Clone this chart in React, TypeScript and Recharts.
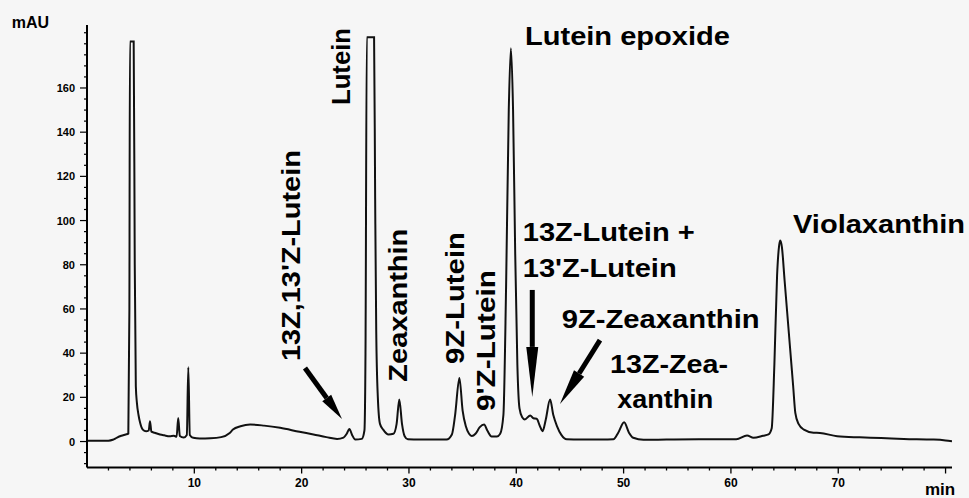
import React from "react";
import { LineChart, Line, XAxis, YAxis, ReferenceDot, ReferenceLine, Label } from "recharts";

// retention time (min) and absorbance (mAU)
const times = [
  0, 1, 2, 2.4, 2.8, 3.2, 3.6, 3.85, 3.95, 4.0, 4.35, 4.45, 4.55, 4.65, 4.8, 4.95, 5.2, 5.5, 5.75, 5.87,
  6.0, 6.3, 6.8, 7.2, 7.7, 8.1, 8.35, 8.5, 8.65, 9.0, 9.3, 9.44, 9.58, 9.9, 10.5, 11.5, 12.5, 13.3, 13.6, 14.3,
  15.2, 16.5, 18, 19.8, 21.1, 22.3, 23.3, 23.9, 24.2, 24.45, 24.7, 25.0, 25.6, 25.85, 25.95, 26.07, 26.75, 26.85, 26.95, 27.1,
  27.3, 27.6, 28.1, 28.55, 28.85, 29.1, 29.35, 29.6, 29.9, 31, 32.5, 33.5, 34.0, 34.3, 34.7, 35.0, 35.3, 35.6, 35.85, 36.2,
  36.6, 37.0, 37.3, 37.7, 38.2, 38.5, 38.8, 39.05, 39.3, 39.5, 39.7, 39.9, 40.1, 40.3, 40.55, 40.8, 41.3, 41.6, 41.9, 42.2,
  42.45, 42.75, 43.15, 43.45, 43.8, 44.2, 44.7, 46, 48, 49.05, 49.5, 50.05, 50.5, 50.9, 51.85, 54, 57, 60.5, 61.5, 62.1,
  63.0, 63.5, 63.8, 64.05, 64.3, 64.5, 64.6, 64.75, 65.0, 65.5, 65.8, 66.0, 66.3, 66.8, 67.7, 68.3, 69.9, 72, 74, 76.1,
  78.9, 80.0, 80.6,
];
const absorbance = [
  0.3, 0.3, 0.4, 0.8, 1.8, 2.6, 3.2, 3.6, 60, 181, 181, 80, 25, 17.5, 12, 8.5, 5.4, 4.6, 5, 9.2,
  4.5, 4, 3.2, 2.8, 2.4, 2.6, 2.2, 10.7, 2.5, 1.8, 3, 33.6, 3, 1.7, 1.4, 1.5, 2, 3.9, 5.4, 6.9,
  7.7, 7.2, 6.2, 4.4, 3.2, 2, 1.2, 1.8, 3.5, 5.7, 3, 0.9, 1.2, 5, 40, 183, 183, 110, 50, 20,
  8, 5.4, 3.2, 3.5, 8, 19, 8, 2.4, 1, 0.9, 0.9, 0.9, 3.2, 12, 28.8, 14, 6.9, 3.5, 2.5, 3.5,
  6.5, 7.7, 5, 2.3, 2.3, 3.5, 12, 70, 150, 178, 150, 85, 35, 15, 11, 10, 11.8, 10.5, 10.3, 7,
  4.7, 10, 19, 12, 6.9, 3, 1, 0.9, 0.9, 1, 4, 8.7, 4, 1.7, 0.8, 0.9, 1, 1, 2.7, 1.7,
  2.6, 3.2, 6, 35, 75, 89, 91, 88, 73, 43, 25, 13, 8, 5.4, 4, 3.9, 2.4, 1.9, 1.6, 1.2,
  0.9, 0.5, 0.1,
];

const xLabelled = [10, 20, 30, 40, 50, 60, 70];
const xTicks = Array.from({ length: 40 }, (_, i) => (i + 1) * 2);
const yLabelled = [0, 20, 40, 60, 80, 100, 120, 140, 160];
const yTicks = Array.from({ length: 40 }, (_, i) => -10 + i * 5);

// peak names: anchor = start of baseline (data units), len = drawn length in px
const peakLabels = [
  { text: "Lutein epoxide", t: 40.81, v: 179.4, len: 205, vertical: false },
  { text: "Violaxanthin", t: 65.79, v: 94.2, len: 172, vertical: false },
  { text: "13Z-Lutein +", t: 40.6, v: 90.9, len: 172, vertical: false },
  { text: "13'Z-Lutein", t: 40.6, v: 74.6, len: 154, vertical: false },
  { text: "9Z-Zeaxanthin", t: 44.23, v: 51.2, len: 198, vertical: false },
  { text: "13Z-Zea-", t: 48.73, v: 30.9, len: 118, vertical: false },
  { text: "xanthin", t: 49.41, v: 15.0, len: 96, vertical: false },
  { text: "13Z,13'Z-Lutein", t: 19.85, v: 36.4, len: 211, vertical: true },
  { text: "Lutein", t: 24.51, v: 152.3, len: 77, vertical: true },
  { text: "Zeaxanthin", t: 29.82, v: 27.1, len: 153, vertical: true },
  { text: "9Z-Lutein", t: 35.13, v: 35.1, len: 132, vertical: true },
  { text: "9'Z-Lutein", t: 38.02, v: 13.8, len: 141, vertical: true },
];

const arrows = [
  { from: { x: 20.31, y: 33.3 }, to: { x: 23.76, y: 10.2 }, head: 26, wide: 11 },
  { from: { x: 41.49, y: 68.6 }, to: { x: 41.49, y: 20.2 }, head: 50, wide: 12 },
  { from: { x: 47.8, y: 45.9 }, to: { x: 44.07, y: 17.0 }, head: 36, wide: 12 },
];

const data = times.map((t, i) => ({ t, v: absorbance[i] }));

const FONT = '"Liberation Sans", Arial, Helvetica, sans-serif';

const XTick = ({ x, y, payload }: any) => {
  const lab = xLabelled.includes(payload.value);
  const major = lab || payload.value === 80;
  return (
    <g>
      <line x1={x} x2={x} y1={y} y2={y + (major ? 6 : 3)} stroke="#000" strokeWidth={1.3} />
      {lab && (
        <text x={x} y={y + 19} textAnchor="middle" fontFamily={FONT} fontWeight="bold" fontSize={12} fill="#000">
          {payload.value}
        </text>
      )}
    </g>
  );
};

const YTick = ({ x, y, payload }: any) => {
  const lab = yLabelled.includes(payload.value);
  return (
    <g>
      <line x1={x - (lab ? 7 : 3)} x2={x} y1={y} y2={y} stroke="#000" strokeWidth={1.2} />
      {lab && (
        <text x={x - 12} y={y + 4} textAnchor="end" fontFamily={FONT} fontWeight="bold" fontSize={11} fill="#000">
          {payload.value}
        </text>
      )}
    </g>
  );
};

const PeakText = ({ cx, cy, text, len, vertical }: any) => (
  <text
    x={cx}
    y={cy}
    transform={vertical ? `rotate(-90 ${cx} ${cy})` : undefined}
    textLength={len}
    lengthAdjust="spacingAndGlyphs"
    fontFamily={FONT}
    fontWeight="bold"
    fontSize={25}
    fill="#000"
  >
    {text}
  </text>
);

const Arrow = ({ x1, y1, x2, y2, head, wide }: any) => {
  const L = Math.hypot(x2 - x1, y2 - y1);
  const ux = (x2 - x1) / L;
  const uy = (y2 - y1) / L;
  const bx = x2 - ux * head;
  const by = y2 - uy * head;
  const px = (-uy * wide) / 2;
  const py = (ux * wide) / 2;
  return (
    <g>
      <line x1={x1} y1={y1} x2={bx} y2={by} stroke="#000" strokeWidth={5} />
      <polygon points={`${x2},${y2} ${bx + px},${by + py} ${bx - px},${by - py}`} fill="#000" />
    </g>
  );
};

export default function App() {
  return (
    <div style={{ position: "absolute", left: 0, top: 0, width: 969, height: 498, background: "#f6f6f6" }}>
      <LineChart width={969} height={498} data={data} margin={{ top: 25, right: 17, bottom: 0, left: 27 }}>
        <XAxis
          dataKey="t"
          type="number"
          domain={[0, 80.6]}
          allowDataOverflow
          ticks={xTicks}
          interval={0}
          tick={<XTick />}
          tickLine={false}
          tickSize={0}
          tickMargin={0}
          height={30.5}
          axisLine={{ stroke: "#000", strokeWidth: 2 }}
        >
          <Label
            content={({ viewBox }: any) => (
              <text x={viewBox.x + 838} y={viewBox.y + 27.5} fontFamily={FONT} fontWeight="bold" fontSize={17} fill="#000">
                min
              </text>
            )}
          />
        </XAxis>
        <YAxis
          type="number"
          domain={[-11.75, 188.5]}
          allowDataOverflow
          ticks={yTicks}
          interval={0}
          tick={<YTick />}
          tickLine={false}
          tickSize={0}
          tickMargin={0}
          width={60}
          axisLine={{ stroke: "#000", strokeWidth: 2 }}
        >
          <Label
            content={({ viewBox }: any) => (
              <text x={viewBox.x - 15.3} y={viewBox.y + 3.3} fontFamily={FONT} fontWeight="bold" fontSize={16} fill="#000">
                mAU
              </text>
            )}
          />
        </YAxis>
        <Line
          type="monotone"
          dataKey="v"
          stroke="#111"
          strokeWidth={2}
          dot={false}
          activeDot={false}
          isAnimationActive={false}
        />
        {arrows.map((a, i) => (
          <ReferenceLine
            key={"a" + i}
            segment={[a.from, a.to]}
            ifOverflow="visible"
            shape={(p: any) => <Arrow {...p} head={a.head} wide={a.wide} />}
          />
        ))}
        {peakLabels.map((l) => (
          <ReferenceDot
            key={l.text}
            x={l.t}
            y={l.v}
            r={0}
            ifOverflow="visible"
            shape={(p: any) => <PeakText {...p} text={l.text} len={l.len} vertical={l.vertical} />}
          />
        ))}
      </LineChart>
    </div>
  );
}
